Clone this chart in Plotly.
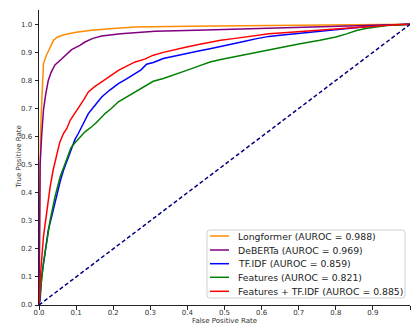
import plotly.graph_objects as go

# ---------------- data ----------------
names = ["Longformer", "DeBERTa", "TF.IDF", "Features", "Features + TF.IDF"]
aurocs = [0.988, 0.969, 0.859, 0.821, 0.885]
colors = ["#ff8c00", "#800080", "#0000ff", "#008000", "#ff0000"]

fpr_longformer = [0, 0.001, 0.002, 0.004, 0.006, 0.01, 0.012, 0.02, 0.03, 0.039, 0.05, 0.07, 0.1, 0.142,
                  0.2, 0.26, 0.4, 0.6, 0.8, 1.0]
tpr_longformer = [0, 0.3, 0.48, 0.6, 0.68, 0.8, 0.86, 0.89, 0.92, 0.943, 0.955, 0.964, 0.972, 0.979,
                  0.985, 0.99, 0.993, 0.996, 0.998, 1.0]

fpr_deberta = [0, 0.001, 0.003, 0.007, 0.012, 0.018, 0.025, 0.033, 0.043, 0.057, 0.075, 0.088, 0.11,
               0.124, 0.145, 0.169, 0.22, 0.313, 0.45, 0.6, 0.75, 0.9, 1.0]
tpr_deberta = [0, 0.25, 0.5, 0.6, 0.694, 0.75, 0.8, 0.83, 0.855, 0.872, 0.895, 0.91, 0.925,
               0.937, 0.95, 0.958, 0.966, 0.975, 0.98, 0.985, 0.99, 0.996, 1.0]

fpr_tfidf = [0, 0.003, 0.007, 0.016, 0.025, 0.034, 0.048, 0.057, 0.066, 0.077, 0.088, 0.097, 0.106,
             0.115, 0.124, 0.133, 0.15, 0.169, 0.19, 0.214, 0.235, 0.259, 0.275, 0.29, 0.308, 0.335,
             0.365, 0.398, 0.43, 0.461, 0.49, 0.524, 0.555, 0.587, 0.62, 0.65, 0.7, 0.75, 0.8, 0.85,
             0.9, 0.95, 1.0]
tpr_tfidf = [0, 0.018, 0.10, 0.184, 0.267, 0.314, 0.397, 0.44, 0.48, 0.52, 0.565, 0.59, 0.611,
             0.635, 0.658, 0.682, 0.71, 0.741, 0.765, 0.789, 0.805, 0.824, 0.838, 0.858, 0.864, 0.878,
             0.887, 0.896, 0.905, 0.913, 0.922, 0.931, 0.94, 0.949, 0.957, 0.961, 0.968, 0.975, 0.982,
             0.988, 0.994, 0.998, 1.0]

fpr_features = [0, 0.002, 0.005, 0.012, 0.021, 0.030, 0.043, 0.057, 0.075, 0.086, 0.097, 0.11, 0.124,
                0.142, 0.155, 0.178, 0.195, 0.214, 0.235, 0.259, 0.285, 0.308, 0.335, 0.365, 0.398,
                0.43, 0.461, 0.49, 0.524, 0.555, 0.587, 0.62, 0.65, 0.7, 0.757, 0.8, 0.829, 0.856,
                0.88, 0.91, 0.937, 0.97, 1.0]
tpr_features = [0, 0.02, 0.065, 0.148, 0.231, 0.302, 0.385, 0.457, 0.52, 0.56, 0.578, 0.595, 0.617,
                0.635, 0.65, 0.682, 0.70, 0.724, 0.74, 0.759, 0.777, 0.797, 0.807, 0.82, 0.836,
                0.851, 0.866, 0.875, 0.884, 0.892, 0.90, 0.911, 0.918, 0.93, 0.943, 0.955, 0.966, 0.978,
                0.985, 0.99, 0.996, 0.998, 1.0]

fpr_combined = [0, 0.002, 0.005, 0.012, 0.021, 0.030, 0.038, 0.048, 0.056, 0.066, 0.075, 0.084, 0.095,
                0.106, 0.12, 0.133, 0.15, 0.169, 0.19, 0.214, 0.235, 0.259, 0.285, 0.308, 0.335, 0.365,
                0.398, 0.43, 0.461, 0.49, 0.524, 0.555, 0.587, 0.62, 0.65, 0.7, 0.75, 0.8, 0.85, 0.9,
                0.95, 1.0]
tpr_combined = [0, 0.05, 0.125, 0.243, 0.338, 0.421, 0.48, 0.54, 0.58, 0.611, 0.629, 0.658, 0.68,
                0.70, 0.73, 0.759, 0.778, 0.795, 0.815, 0.836, 0.85, 0.866, 0.876, 0.89, 0.90, 0.91,
                0.919, 0.928, 0.937, 0.943, 0.949, 0.955, 0.961, 0.966, 0.969, 0.974, 0.979, 0.984,
                0.989, 0.994, 0.998, 1.0]

diag = [0, 1]
tick_vals = [0.0, 0.1, 0.2, 0.3, 0.4, 0.5, 0.6, 0.7, 0.8, 0.9, 1.0]

fprs = [fpr_longformer, fpr_deberta, fpr_tfidf, fpr_features, fpr_combined]
tprs = [tpr_longformer, tpr_deberta, tpr_tfidf, tpr_features, tpr_combined]

# ---------------- layout geometry ----------------
W, H = 415, 329
ML, MR, MT, MB = 39, 5, 10, 24
PW, PH = W - ML - MR, H - MT - MB


def px(x):
    return (x - ML) / PW


def py(y):
    return (H - MB - y) / PH


fig = go.Figure()
for n, a, c, fx, ty in zip(names, aurocs, colors, fprs, tprs):
    fig.add_trace(go.Scatter(x=fx, y=ty, mode="lines", name=f"{n} (AUROC = {a:.3f})",
                             line=dict(color=c, width=1.5), showlegend=False))
fig.add_trace(go.Scatter(x=diag, y=diag, mode="lines", line=dict(color="#000080", width=1.5,
                                                                  dash="4px,2.5px"), showlegend=False))

font = "DejaVu Sans, Liberation Sans, sans-serif"
axis_common = dict(showgrid=False, zeroline=False, showline=True, linecolor="#222", linewidth=1,
                   ticks="outside", ticklen=3.5, tickwidth=1, tickcolor="#222",
                   tickvals=tick_vals, tickformat=".1f",
                   tickfont=dict(family=font, size=7, color="#333"))

fig.update_layout(
    width=W, height=H, margin=dict(l=ML, r=MR, t=MT, b=MB),
    paper_bgcolor="white", plot_bgcolor="white",
    xaxis=dict(range=[0, 1.0], ticklabelstandoff=-3, **axis_common),
    yaxis=dict(range=[0, 1.051], ticklabelstandoff=1, **axis_common),
    showlegend=False,
)

annotations = [
    dict(text="False Positive Rate", x=0.5, y=py(321.5), xref="paper", yref="paper",
         xanchor="center", yanchor="middle", showarrow=False,
         font=dict(family=font, size=7, color="#333")),
    dict(text="True Positive Rate", x=px(18.5), y=py(157), xref="paper", yref="paper",
         xanchor="center", yanchor="middle", showarrow=False, textangle=-90,
         font=dict(family=font, size=7, color="#333")),
]

# custom legend (matplotlib-like compact box)
bx0, bx1, by0, by1 = 207, 405, 230, 298
r = 3
x0, x1 = px(bx0), px(bx1)
y0, y1 = py(by0), py(by1)
rx, ry = r / PW, r / PH
path = (f"M {x0 + rx},{y0} L {x1 - rx},{y0} Q {x1},{y0} {x1},{y0 - ry} "
        f"L {x1},{y1 + ry} Q {x1},{y1} {x1 - rx},{y1} L {x0 + rx},{y1} Q {x0},{y1} {x0},{y1 + ry} "
        f"L {x0},{y0 - ry} Q {x0},{y0} {x0 + rx},{y0} Z")
shapes = [dict(type="path", path=path, xref="paper", yref="paper",
               line=dict(color="#d0d0d0", width=1), fillcolor="rgba(255,255,255,0.85)", layer="above")]

row_y = [236, 250, 263.7, 277.3, 291.3]
for n, a, c, yy in zip(names, aurocs, colors, row_y):
    shapes.append(dict(type="line", xref="paper", yref="paper", x0=px(210), x1=px(229),
                       y0=py(yy), y1=py(yy), line=dict(color=c, width=1.5), layer="above"))
    annotations.append(dict(text=f"{n} (AUROC = {a:.3f})", x=px(236), y=py(yy), xref="paper",
                            yref="paper", xanchor="left", yanchor="middle", showarrow=False,
                            font=dict(family=font, size=9.3, color="#222")))

fig.update_layout(shapes=shapes, annotations=annotations)
fig.write_html("out.html")
